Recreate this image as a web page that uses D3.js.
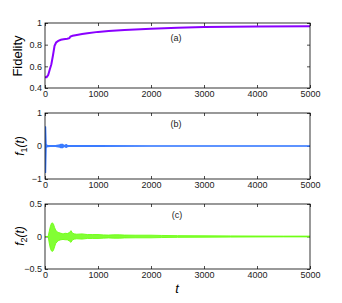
<!DOCTYPE html>
<html>
<head>
<meta charset="utf-8">
<script src="https://cdn.jsdelivr.net/npm/d3@7"></script>
<style>
  body { margin: 0; background: #fff; }
  svg { display: block; font-family: "Liberation Sans", Arial, Helvetica, sans-serif; }
  .tick text { font-size: 9px; fill: #222; }
  .tick line { stroke: #000; stroke-width: 0.7px; }
  .box { fill: none; stroke: #000; stroke-width: 0.8px; }
</style>
</head>
<body>
<svg width="342" height="303"></svg>
<script>
// time ticks shared by all panels
var timeTicks = [0, 1000, 2000, 3000, 4000, 5000];

// (a) fidelity
var fidT = [0, 30, 60, 90, 120, 150, 180, 210, 250, 300, 350, 420, 460, 480, 520, 600, 700, 800, 1000, 1200, 1500, 2000, 2500, 3000, 4000, 5000];
var fidelity = [0.5, 0.5, 0.52, 0.57, 0.62, 0.7, 0.79, 0.82, 0.835, 0.845, 0.85, 0.855, 0.86, 0.875, 0.882, 0.89, 0.898, 0.905, 0.918, 0.927, 0.936, 0.948, 0.956, 0.962, 0.968, 0.97];
var fidTicks = [0.4, 0.6, 0.8, 1];

// (b) f1(t): upper / lower envelope of the oscillation
var f1T = [0, 5, 10, 15, 20, 30, 50, 100, 200, 280, 300, 330, 350, 380, 400, 420, 450, 600, 1000, 2000, 5000];
var f1Upper = [0, 0.58, 0.58, 0.3, 0.05, 0.03, 0.015, 0.01, 0.01, 0.03, 0.05, 0.05, 0.02, 0.02, 0.04, 0.02, 0.01, 0.01, 0.008, 0.005, 0.005];
var f1Lower = [0, -0.8, -0.8, -0.4, -0.05, -0.03, -0.015, -0.01, -0.01, -0.03, -0.05, -0.05, -0.02, -0.02, -0.04, -0.02, -0.01, -0.01, -0.008, -0.005, -0.005];
var f1Ticks = [-1, 0, 1];

// (c) f2(t): upper / lower envelope
var f2T = [0, 60, 80, 100, 120, 140, 160, 180, 200, 230, 260, 300, 340, 380, 420, 460, 490, 520, 560, 600, 700, 800, 900, 1000, 1100, 1200, 1300, 1400, 1500, 1700, 2000, 2200, 2500, 3000, 3500, 4000, 4500, 5000];
var f2Upper = [0, 0, 0.08, 0.15, 0.2, 0.21, 0.19, 0.14, 0.1, 0.07, 0.06, 0.05, 0.04, 0.05, 0.045, 0.06, 0.09, 0.05, 0.04, 0.035, 0.04, 0.03, 0.03, 0.03, 0.025, 0.022, 0.026, 0.026, 0.022, 0.02, 0.02, 0.016, 0.013, 0.011, 0.009, 0.007, 0.006, 0.006];
var f2Lower = [0, 0, -0.1, -0.18, -0.22, -0.23, -0.21, -0.16, -0.11, -0.08, -0.06, -0.05, -0.045, -0.05, -0.05, -0.07, -0.09, -0.05, -0.04, -0.035, -0.04, -0.03, -0.03, -0.03, -0.025, -0.022, -0.026, -0.026, -0.022, -0.02, -0.02, -0.016, -0.013, -0.011, -0.009, -0.007, -0.006, -0.006];
var f2Ticks = [-0.5, 0, 0.5];

var svg = d3.select("svg");
var x = d3.scaleLinear().domain([0, 5000]).range([45, 310]);
var fmt = d3.format("~g");

var panels = [
  {key: "a", domain: [0.4, 1], range: [88, 23], ticks: fidTicks},
  {key: "b", domain: [-1, 1], range: [179, 113], ticks: f1Ticks},
  {key: "c", domain: [-0.5, 0.5], range: [269, 204], ticks: f2Ticks}
];

panels.forEach(function(p) {
  p.y = d3.scaleLinear().domain(p.domain).range(p.range);
  var g = svg.append("g");
  p.g = g;
  var top = p.range[1], bottom = p.range[0];

  g.append("g").attr("transform", "translate(0," + bottom + ")")
    .call(d3.axisBottom(x).tickValues(timeTicks).tickFormat(fmt).tickSizeInner(-3).tickSizeOuter(0).tickPadding(3));
  g.append("g").attr("transform", "translate(0," + top + ")")
    .call(d3.axisTop(x).tickValues(timeTicks).tickFormat("").tickSizeInner(-3).tickSizeOuter(0));
  g.append("g").attr("transform", "translate(45,0)")
    .call(d3.axisLeft(p.y).tickValues(p.ticks).tickFormat(fmt).tickSizeInner(-3).tickSizeOuter(0).tickPadding(3));
  g.append("g").attr("transform", "translate(310,0)")
    .call(d3.axisRight(p.y).tickValues(p.ticks).tickFormat("").tickSizeInner(-3).tickSizeOuter(0));
  g.selectAll(".domain").remove();
  g.selectAll("text").attr("font-family", null).attr("font-size", null);
});

function clip(p) {
  var id = "clip-" + p.key;
  svg.append("clipPath").attr("id", id).append("rect")
    .attr("x", 45).attr("y", p.range[1]).attr("width", 265).attr("height", p.range[0] - p.range[1]);
  return "url(#" + id + ")";
}

// (a) fidelity curve
var pa = panels[0];
pa.g.append("path")
  .datum(fidT.map(function(t, i) { return [t, fidelity[i]]; }))
  .attr("clip-path", clip(pa))
  .attr("fill", "none")
  .attr("stroke", "#8a00ff")
  .attr("stroke-width", 2)
  .attr("d", d3.line().x(function(d) { return x(d[0]); }).y(function(d) { return pa.y(d[1]); }));

// (b), (c) oscillation bands
function band(p, ts, up, lo, color, w, op) {
  var data = ts.map(function(t, i) { return [t, up[i], lo[i]]; });
  p.g.append("path")
    .datum(data)
    .attr("clip-path", clip(p))
    .attr("fill", color)
    .attr("fill-opacity", op)
    .attr("stroke", color)
    .attr("stroke-width", w)
    .attr("stroke-linejoin", "round")
    .attr("d", d3.area()
      .x(function(d) { return x(d[0]); })
      .y0(function(d) { return p.y(d[2]); })
      .y1(function(d) { return p.y(d[1]); }));
}
band(panels[1], f1T, f1Upper, f1Lower, "#3a7bff", 1.4, 1);
band(panels[2], f2T, f2Upper, f2Lower, "#6cff10", 0.9, 0.85);

// boxes drawn over the data
panels.forEach(function(p) {
  p.g.append("rect").attr("class", "box")
    .attr("x", 45).attr("y", p.range[1]).attr("width", 265).attr("height", p.range[0] - p.range[1]);
});

// panel tags
[["(a)", 176, 41], ["(b)", 176, 127], ["(c)", 177, 218]].forEach(function(d) {
  svg.append("text").attr("x", d[1]).attr("y", d[2]).attr("text-anchor", "middle")
    .attr("font-size", 9).attr("fill", "#222").text(d[0]);
});

// axis titles
svg.append("text")
  .attr("transform", "translate(22,56) rotate(-90)")
  .attr("text-anchor", "middle").attr("font-size", 13).text("Fidelity");

function fLabel(sub, cy) {
  var t = svg.append("text")
    .attr("transform", "translate(24," + cy + ") rotate(-90)")
    .attr("text-anchor", "middle").attr("font-size", 12).attr("font-style", "italic");
  t.append("tspan").text("f");
  t.append("tspan").attr("font-size", 9).attr("dy", 3).attr("font-style", "normal").text(sub);
  t.append("tspan").attr("dy", -3).text("(t)");
}
fLabel("1", 146);
fLabel("2", 236);

svg.append("text").attr("x", 177).attr("y", 293).attr("text-anchor", "middle")
  .attr("font-size", 13).attr("font-style", "italic").text("t");
</script>
</body>
</html>
